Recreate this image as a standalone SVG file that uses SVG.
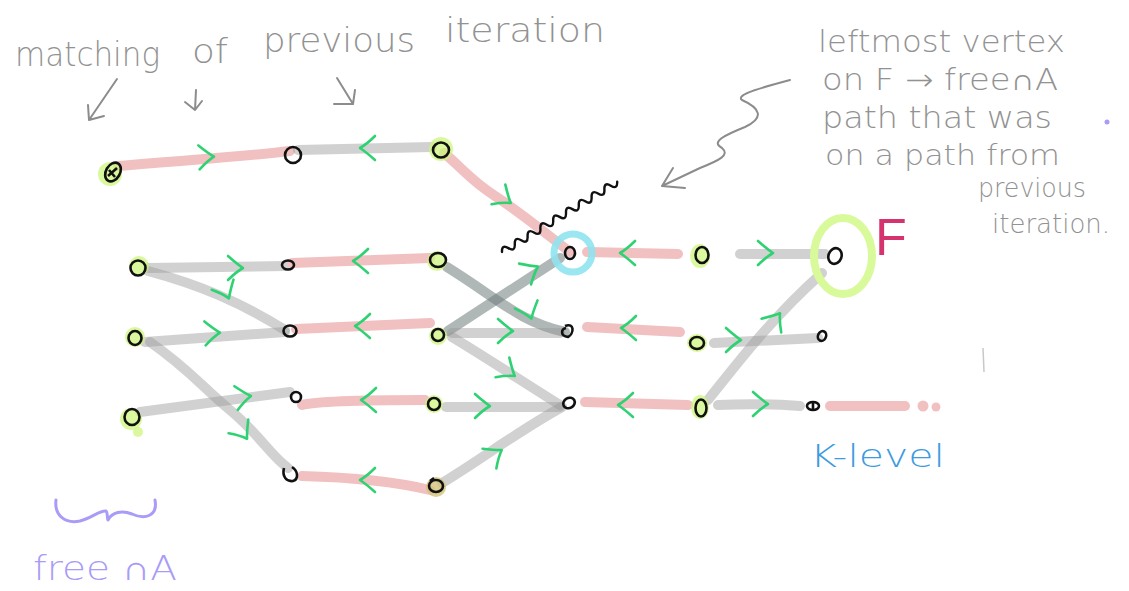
<svg xmlns="http://www.w3.org/2000/svg" xmlns:xlink="http://www.w3.org/1999/xlink" width="1129" height="591" viewBox="0 0 1129 591">
  <style>
    .note { font-family: "DejaVu Sans", "Liberation Sans", Arial, sans-serif; font-weight: 200; fill: #929292; }
    .hand { font-family: "DejaVu Sans", "Liberation Sans", Arial, sans-serif; font-weight: 200; }
    .red { fill: none; stroke: #f1c1c1; stroke-width: 10; stroke-linecap: round; stroke-linejoin: round; }
    .gray { fill: none; stroke: #9a9a9a; stroke-opacity: 0.45; stroke-width: 10; stroke-linecap: round; stroke-linejoin: round; }
    .dark { fill: none; stroke: #6f7c7c; stroke-opacity: 0.55; stroke-width: 10; stroke-linecap: round; stroke-linejoin: round; }
    .chev { fill: none; stroke: #2fd273; stroke-width: 2.6; stroke-linecap: round; stroke-linejoin: round; }
    .hl { fill: #cdf57e; fill-opacity: 0.75; }
    .v { fill: none; stroke: #111; stroke-width: 2.6; }
    .pen { fill: none; stroke: #8c8c8c; stroke-width: 2; stroke-linecap: round; stroke-linejoin: round; }
  </style>
  <defs>
    <!-- green direction mark, pointing along +x -->
    <path id="chev" d="M-8,-12 Q1,-4 7,0 Q0,4 -8,12"/>
  </defs>
  <rect width="1129" height="591" fill="#ffffff"/>

  <!-- title words -->
  <g id="title">
    <text class="note" x="15" y="66" font-size="34" textLength="145" lengthAdjust="spacingAndGlyphs">matching</text>
    <text class="note" x="192" y="63" font-size="34" textLength="36" lengthAdjust="spacingAndGlyphs">of</text>
    <text class="note" x="263" y="52" font-size="34" textLength="152" lengthAdjust="spacingAndGlyphs">previous</text>
    <text class="note" x="445" y="42" font-size="34" textLength="160" lengthAdjust="spacingAndGlyphs">iteration</text>
    <path class="pen" d="M117,79 L89,120 M88,105 L89,120 L104,116"/>
    <path class="pen" d="M196,90 L195,110 M185,102 L195,110 L202,101"/>
    <path class="pen" d="M337,78 L353,104 M334,104 L353,104 L355,90"/>
  </g>

  <!-- connectors -->
  <g id="connectors">
    <path class="red" d="M118,166 C200,159 250,156 290,151"/>
    <path class="gray" d="M298,150 L432,147"/>
    <path class="red" d="M444,153 C460,166 470,180 495,196 S545,233 570,252"/>
    <path class="gray" d="M148,268 L285,266"/>
    <path class="gray" d="M148,271 C200,285 240,302 285,330"/>
    <path class="red" d="M292,263 L430,258"/>
    <path class="dark" d="M447,267 C500,300 520,322 565,332"/>
    <path class="dark" d="M448,331 L560,258"/>
    <path class="red" d="M587,252 L678,254"/>
    <path class="gray" d="M740,254 L825,254"/>
    <path class="gray" d="M145,342 L285,332"/>
    <path class="gray" d="M150,342 C190,370 200,385 230,410 S270,455 288,468"/>
    <path class="red" d="M296,329 L430,323"/>
    <path class="gray" d="M452,333 L560,333"/>
    <path class="gray" d="M452,337 C490,360 520,380 560,405"/>
    <path class="red" d="M587,327 L680,332"/>
    <path class="gray" d="M714,343 L818,338"/>
    <path class="gray" d="M140,412 L290,392"/>
    <path class="red" d="M302,405 Q320,400 425,400"/>
    <path class="gray" d="M446,407 L560,407"/>
    <path class="gray" d="M442,483 C480,460 520,430 562,407"/>
    <path class="red" d="M585,402 L688,405"/>
    <path class="gray" d="M708,400 C740,360 770,320 822,273"/>
    <path class="gray" d="M718,405 Q760,403 800,406"/>
    <path class="red" d="M830,406 L905,406"/>
    <circle cx="923" cy="406" r="5.5" fill="#f1c1c1"/>
    <circle cx="936" cy="407" r="4.5" fill="#f1c1c1"/>
    <path class="red" d="M302,476 Q380,478 430,490"/>

    <!-- direction marks -->
    <use xlink:href="#chev" class="chev" transform="translate(207,157) rotate(-3)"/>
    <use xlink:href="#chev" class="chev" transform="translate(367,148) rotate(180)"/>
    <use xlink:href="#chev" class="chev" transform="translate(505,199) rotate(35)"/>
    <use xlink:href="#chev" class="chev" transform="translate(236,268) rotate(0)"/>
    <use xlink:href="#chev" class="chev" transform="translate(226,292) rotate(65)"/>
    <use xlink:href="#chev" class="chev" transform="translate(360,261) rotate(180)"/>
    <use xlink:href="#chev" class="chev" transform="translate(529,312) rotate(70)"/>
    <use xlink:href="#chev" class="chev" transform="translate(532,270) rotate(-30)"/>
    <use xlink:href="#chev" class="chev" transform="translate(627,253) rotate(180)"/>
    <use xlink:href="#chev" class="chev" transform="translate(766,253) rotate(0)"/>
    <use xlink:href="#chev" class="chev" transform="translate(213,333) rotate(-3)"/>
    <use xlink:href="#chev" class="chev" transform="translate(243,433) rotate(55)"/>
    <use xlink:href="#chev" class="chev" transform="translate(362,326) rotate(180)"/>
    <use xlink:href="#chev" class="chev" transform="translate(506,331) rotate(0)"/>
    <use xlink:href="#chev" class="chev" transform="translate(509,372) rotate(35)"/>
    <use xlink:href="#chev" class="chev" transform="translate(628,328) rotate(180)"/>
    <use xlink:href="#chev" class="chev" transform="translate(734,340) rotate(0)"/>
    <use xlink:href="#chev" class="chev" transform="translate(244,397) rotate(-8)"/>
    <use xlink:href="#chev" class="chev" transform="translate(368,400) rotate(180)"/>
    <use xlink:href="#chev" class="chev" transform="translate(483,406) rotate(0)"/>
    <use xlink:href="#chev" class="chev" transform="translate(496,454) rotate(-35)"/>
    <use xlink:href="#chev" class="chev" transform="translate(625,405) rotate(180)"/>
    <use xlink:href="#chev" class="chev" transform="translate(776,319) rotate(-55)"/>
    <use xlink:href="#chev" class="chev" transform="translate(761,404) rotate(0)"/>
    <use xlink:href="#chev" class="chev" transform="translate(367,480) rotate(180)"/>
  </g>

  <!-- vertices -->
  <g id="a1"><circle class="hl" cx="110" cy="174" r="12"/><ellipse class="v" cx="113" cy="172" rx="7" ry="10" transform="rotate(30 113 172)"/><path class="v" d="M108,176 L117,168 M109,170 L115,177"/></g>
  <g id="a2"><ellipse class="v" cx="293" cy="155" rx="8" ry="8"/></g>
  <g id="a3"><circle class="hl" cx="441" cy="149" r="12"/><ellipse class="v" cx="441" cy="150" rx="8" ry="7.5"/></g>
  <g id="b1"><circle class="hl" cx="139" cy="266" r="10"/><ellipse class="v" cx="138" cy="268" rx="7.5" ry="7.5"/></g>
  <g id="b2"><ellipse class="v" cx="288" cy="265" rx="6" ry="4.5"/></g>
  <g id="b3"><circle class="hl" cx="437" cy="261" r="10"/><ellipse class="v" cx="438" cy="260" rx="8" ry="7"/></g>
  <g id="b4"><circle cx="573" cy="253" r="19" fill="none" stroke="#8fe3ef" stroke-width="7" stroke-opacity="0.9"/><ellipse class="v" cx="570" cy="253" rx="5" ry="6"/></g>
  <g id="b5"><ellipse class="hl" cx="700" cy="256" rx="10" ry="12"/><ellipse class="v" cx="702" cy="255" rx="6.5" ry="8"/></g>
  <g id="b6"><ellipse cx="843" cy="256" rx="29" ry="38" fill="none" stroke="#d8fa9a" stroke-width="8"/><ellipse class="v" cx="835" cy="256" rx="6.5" ry="8" transform="rotate(20 835 256)"/></g>
  <g id="c1"><circle class="hl" cx="135" cy="337" r="10"/><ellipse class="v" cx="135" cy="338" rx="6.5" ry="7"/></g>
  <g id="c2"><ellipse class="v" cx="290" cy="331" rx="6.5" ry="5.5"/></g>
  <g id="c3"><circle class="hl" cx="438" cy="336" r="9"/><ellipse class="v" cx="438" cy="335" rx="6" ry="6"/></g>
  <g id="c4"><path class="v" d="M565,326 C575,322 574,334 568,337 C560,336 561,329 566,328"/></g>
  <g id="c5"><ellipse class="hl" cx="697" cy="343" rx="10" ry="9"/><ellipse class="v" cx="697" cy="343" rx="7" ry="6"/></g>
  <g id="c6"><ellipse class="v" cx="822" cy="336" rx="4" ry="5" transform="rotate(25 822 336)"/></g>
  <g id="d1"><circle class="hl" cx="131" cy="419" r="11"/><circle class="hl" cx="138" cy="432" r="5"/><ellipse class="v" cx="132" cy="417" rx="7.5" ry="8"/></g>
  <g id="d2"><ellipse class="v" cx="296" cy="397" rx="5" ry="5"/></g>
  <g id="d3"><circle class="hl" cx="434" cy="404" r="9"/><ellipse class="v" cx="434" cy="404" rx="6" ry="6"/></g>
  <g id="d4"><ellipse class="v" cx="569" cy="403" rx="6" ry="5" transform="rotate(-30 569 403)"/></g>
  <g id="d5"><ellipse class="hl" cx="700" cy="407" rx="9" ry="12"/><ellipse class="v" cx="701" cy="408" rx="5.5" ry="8.5"/></g>
  <g id="d6"><ellipse class="v" cx="813" cy="406" rx="6" ry="4"/><path class="v" d="M813,402 L813,410"/></g>
  <g id="e2"><path class="v" d="M284,468 C282,476 286,482 293,481 C299,479 298,471 292,467"/></g>
  <g id="e3"><circle cx="436" cy="487" r="10" fill="#d4c27a" fill-opacity="0.8"/><ellipse class="v" cx="436" cy="486" rx="7" ry="6"/><path class="v" d="M430,481 L434,478"/></g>

  <!-- wavy mark over the blue-ringed vertex -->
  <path fill="none" stroke="#111" stroke-width="2.4" stroke-linecap="round" stroke-linejoin="round" d="M502,252 q-0.4,-8 6.4,-3.9 t6.4,-3.9 t6.4,-3.9 t6.4,-3.9 t6.4,-3.9 t6.4,-3.9 t6.4,-3.9 t6.4,-3.9 t6.4,-3.9 t6.4,-3.9 t6.4,-3.9 t6.4,-3.9 t6.4,-3.9 t6.4,-3.9 t6.4,-3.9 t6.4,-3.9 t6.4,-3.9 t6.4,-3.9"/>

  <!-- annotation on the right -->
  <g id="note-leftmost">
    <text class="note" x="818" y="52" font-size="30" textLength="247" lengthAdjust="spacingAndGlyphs">leftmost vertex</text>
    <text class="note" x="822" y="90" font-size="30" textLength="236" lengthAdjust="spacingAndGlyphs">on F → free∩A</text>
    <text class="note" x="822" y="128" font-size="30" textLength="230" lengthAdjust="spacingAndGlyphs">path that was</text>
    <text class="note" x="825" y="165" font-size="29" textLength="235" lengthAdjust="spacingAndGlyphs">on a path from</text>
    <text class="note" x="978" y="197" font-size="26" textLength="108" lengthAdjust="spacingAndGlyphs">previous</text>
    <text class="note" x="992" y="233" font-size="26" textLength="118" lengthAdjust="spacingAndGlyphs">iteration.</text>
    <path class="pen" stroke-width="1.8" d="M790,80 C760,88 735,95 742,100 C760,108 765,118 745,127 C725,135 710,142 722,148 C730,155 720,160 700,168 L662,186 M673,168 L662,186 L685,188"/>
  </g>

  <!-- stray marks -->
  <circle cx="1107" cy="122" r="2.5" fill="#a89cf6"/>
  <path d="M983,348 L984,372" stroke="#c8c8c8" stroke-width="1.5" fill="none"/>

  <g id="label-f"><text x="875" y="255" font-family="Liberation Sans, Arial, sans-serif" font-size="52" fill="#d4336e">F</text></g>
  <g id="label-k"><text class="hand" x="810" y="467" font-size="32" fill="#3d9be0" textLength="135" lengthAdjust="spacingAndGlyphs">K-level</text></g>
  <g id="label-free">
    <path d="M56,500 C54,516 66,524 80,521 C92,518 100,510 106,511 C108,513 107,520 108,520 C112,512 122,510 132,514 C145,520 158,516 155,500" fill="none" stroke="#a89cf6" stroke-width="3" stroke-linecap="round" stroke-linejoin="round"/>
    <text class="hand" x="33" y="580" font-size="34" fill="#a89cf6" textLength="144" lengthAdjust="spacingAndGlyphs">free ∩A</text>
  </g>
</svg>
